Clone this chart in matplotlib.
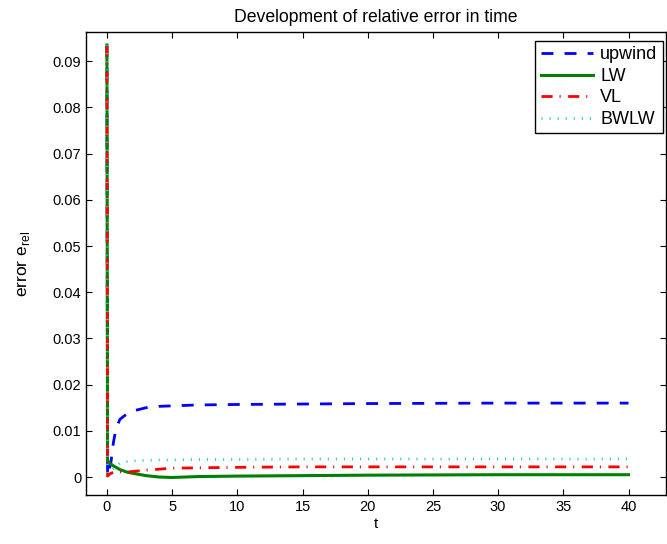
"""
Relative error of the four schemes over time
"""
import numpy as np
import matplotlib
matplotlib.use('Agg')
import matplotlib.pyplot as plt

plt.rcParams['font.family'] = ['Liberation Sans', 'DejaVu Sans']
plt.rcParams['font.size'] = 10.5

# time samples and error values
t = [0, 0.05, 0.3, 0.5, 0.7, 1, 1.5, 2, 3, 4, 5, 7, 10, 15, 20, 30, 40]
err_upwind = [0.0935, 0.0003, 0.003, 0.0075, 0.0105, 0.0125, 0.0136, 0.0143,
              0.015, 0.0153, 0.0154, 0.0156, 0.0157, 0.0158, 0.0159, 0.016, 0.016]
err_lw = [0.0935, 0.0035, 0.0028, 0.0024, 0.0021, 0.0016, 0.0011, 0.0008,
          0.0003, 0.0, -0.0001, 0.0001, 0.0002, 0.0003, 0.0004, 0.0005, 0.0005]
err_vl = [0.0935, 0.0002, 0.0008, 0.001, 0.0011, 0.0011, 0.0011, 0.0012,
          0.0015, 0.0017, 0.0019, 0.002, 0.0021, 0.0022, 0.0022, 0.0022, 0.0022]
err_bwlw = [0.0935, 0.0008, 0.0012, 0.0018, 0.0024, 0.003, 0.0033, 0.0035,
            0.0036, 0.0037, 0.0037, 0.0038, 0.0038, 0.0039, 0.0039, 0.0039, 0.0039]

fig = plt.figure(figsize=(6.67, 5.44), dpi=100)
ax = fig.add_axes([0.129, 0.090, 0.870, 0.851])

ax.plot(t, err_upwind, color='#0000ff', lw=2, ls=(0, (4.3, 4)), label='upwind')
ax.plot(t, err_lw, color='#008000', lw=2.2, ls='-', label='LW')
ax.plot(t, err_vl, color='#ff0000', lw=2, ls=(0, (4, 2.5, 0.4, 2.7)), label='VL')
ax.plot(t, err_bwlw, color='#30c8c8', lw=2, ls=(0, (0.4, 2.5)), label='BWLW')

ax.set_xlim(-1.6, 42.9)
ax.set_ylim(-0.0039, 0.0963)
ax.set_xticks(np.arange(0, 41, 5))
ax.set_yticks(np.arange(0, 0.0901, 0.01))
ax.set_yticklabels(['0'] + ['%.2f' % v for v in np.arange(0.01, 0.0901, 0.01)])
ax.tick_params(direction='in', length=4, top=True, right=True, width=0.8)
for s in ax.spines.values():
    s.set_linewidth(1.0)

ax.set_xlabel('t', labelpad=2, fontsize=11)
ax.set_ylabel('error e$_\\mathregular{rel}$', labelpad=15, fontsize=12.5)
ax.set_title('Development of relative error in time', fontsize=12.7, pad=7)

leg = ax.legend(loc='upper right', bbox_to_anchor=(663 / 667, 503 / 544),
                bbox_transform=fig.transFigure, borderaxespad=0,
                fontsize=13, handlelength=2.9, fancybox=False,
                edgecolor='black', framealpha=1,
                handletextpad=0.4, labelspacing=0.25, borderpad=0.3)
leg.get_frame().set_linewidth(1.0)

plt.savefig('out.png', dpi=100)
